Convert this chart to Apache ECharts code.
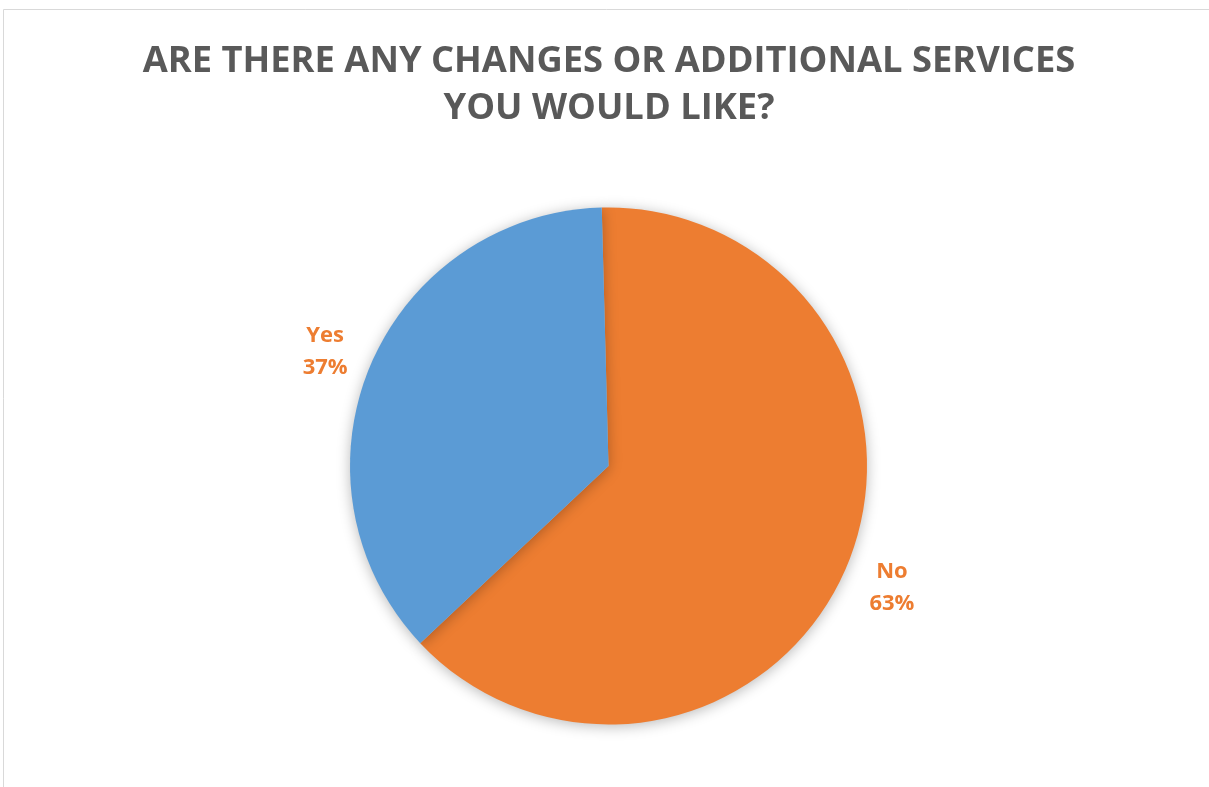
<!DOCTYPE html>
<html>
<head>
<meta charset="utf-8">
<script src="https://cdn.jsdelivr.net/npm/echarts@6/dist/echarts.min.js"></script>
<style>
html,body{margin:0;padding:0;background:#fff;}
#chart{width:1209px;height:787px;}
</style>
</head>
<body>
<div id="chart"></div>
<script>
const titleText = 'ARE THERE ANY CHANGES OR ADDITIONAL SERVICES\nYOU WOULD LIKE?';
const categories = ['No', 'Yes'];
const values = [63.4, 36.6];
const colors = ['#ED7D31', '#5B9BD5'];

const FONT = "'Open Sans', sans-serif";
const CX = 608.5, CY = 466, R = 258.5, START = 91.5, LABEL_R = 307, LABEL_DY = 4;
const total = values.reduce((a, b) => a + b, 0);
function midAngle(i) {
  let before = 0;
  for (let k = 0; k < i; k++) before += values[k];
  const mid = before + values[i] / 2;
  return (START - mid / total * 360) * Math.PI / 180;
}

const chart = echarts.init(document.getElementById('chart'), null, {renderer: 'canvas'});
chart.setOption({
  backgroundColor: '#ffffff',
  animation: false,
  title: {
    text: titleText,
    left: 604,
    textAlign: 'center',
    top: 33,
    textStyle: {
      fontFamily: FONT,
      fontWeight: 'bold',
      fontSize: 36.3,
      lineHeight: 47,
      color: '#595959'
    }
  },
  graphic: [{
    type: 'rect',
    shape: {x: 3.5, y: 9.5, width: 1400, height: 1000},
    style: {fill: 'none', stroke: '#d9d9d9', lineWidth: 1},
    silent: true
  }],
  series: [{
    type: 'pie',
    center: [CX, CY],
    radius: R,
    startAngle: START,
    clockwise: true,
    avoidLabelOverlap: false,
    data: categories.map((c, i) => ({name: c, value: values[i], itemStyle: {color: colors[i]}})),
    itemStyle: {
      shadowBlur: 14,
      shadowOffsetY: 2,
      shadowColor: 'rgba(0,0,0,0.28)'
    },
    label: {
      show: true,
      position: 'outside',
      formatter: p => p.name + '\n' + Math.round(p.percent) + '%',
      fontFamily: FONT,
      fontWeight: 'bold',
      fontSize: 22,
      lineHeight: 32,
      align: 'center',
      color: '#ED7D31'
    },
    labelLine: {show: false, length: 25, length2: 0},
    labelLayout: function (params) {
      const a = midAngle(params.dataIndex);
      return {
        x: CX + LABEL_R * Math.cos(a),
        y: CY - LABEL_R * Math.sin(a) + LABEL_DY,
        align: 'center',
        verticalAlign: 'middle'
      };
    },
    emphasis: {disabled: true}
  }]
});
</script>
</body>
</html>
